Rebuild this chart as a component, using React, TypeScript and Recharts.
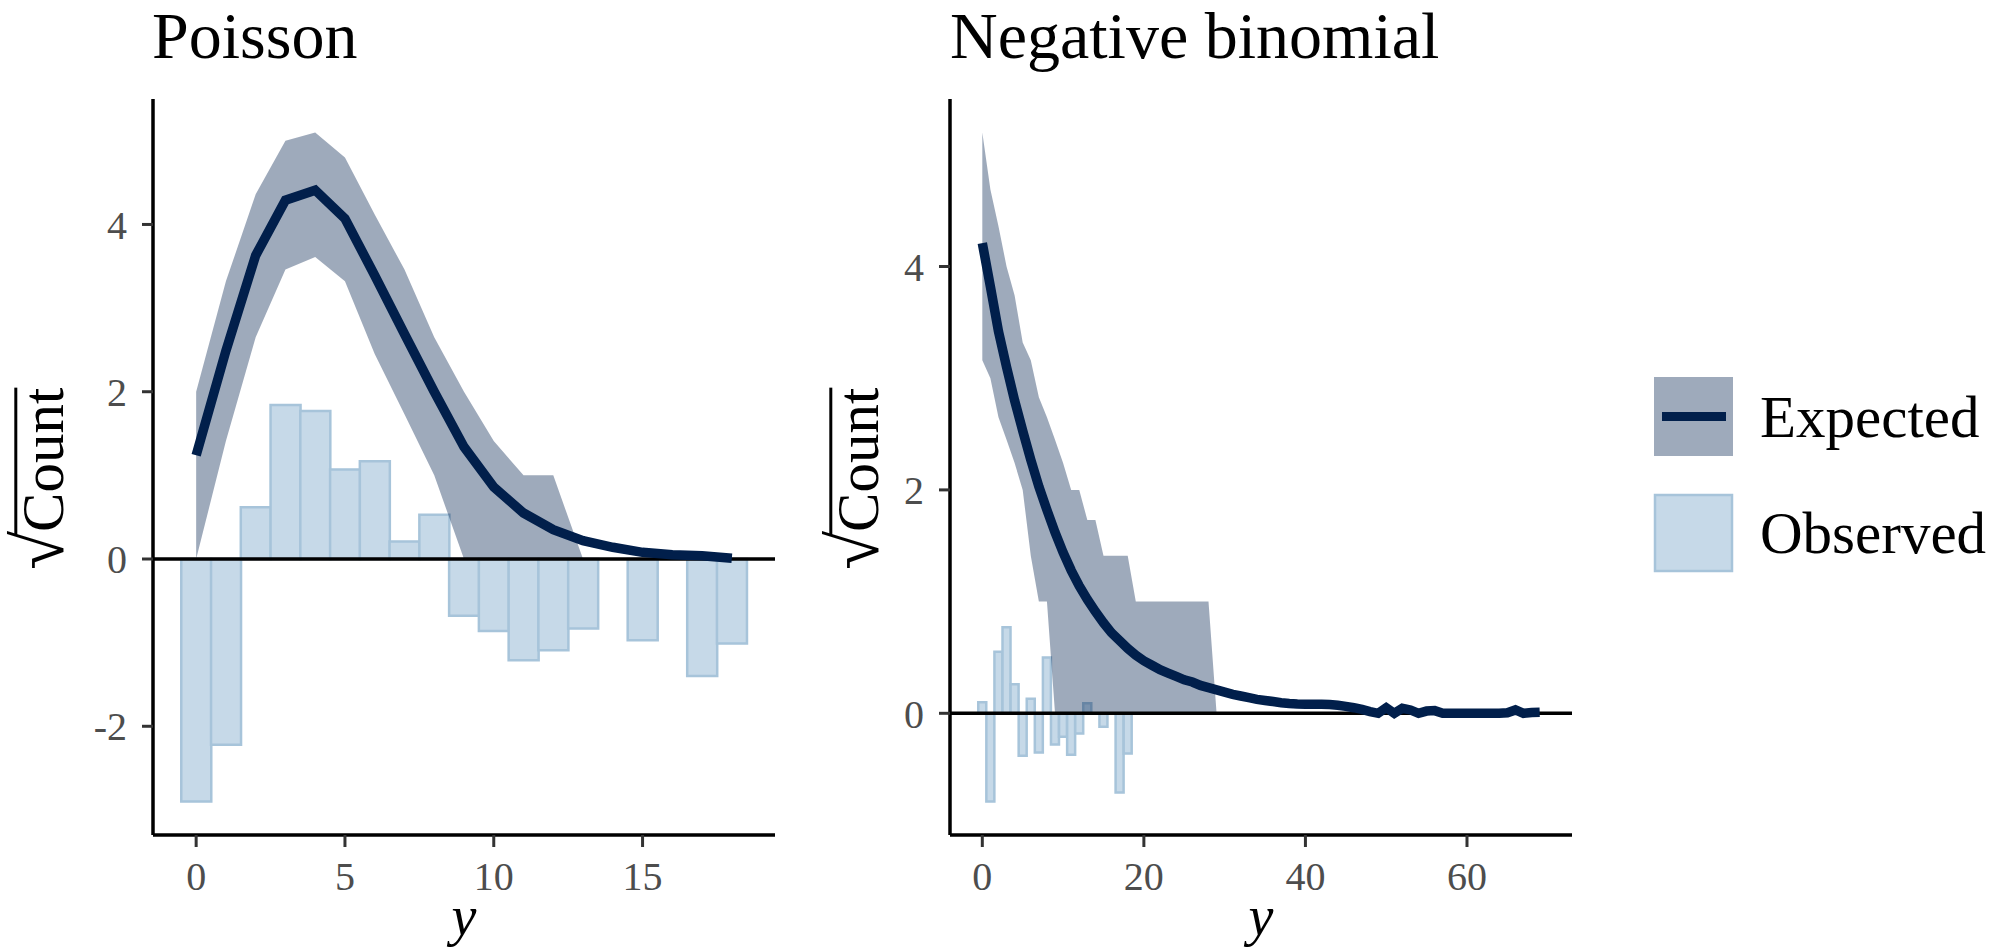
import React from 'react';
import { ComposedChart, Bar, Area, Line, XAxis, YAxis, ReferenceLine, Label } from 'recharts';

const SERIF = '"Liberation Serif", "Times New Roman", Times, serif';
const DARK = '#011f4b';
const RIBBON_OPACITY = 0.38;
const BAR_FILL = '#c6d9e8';
const BAR_STROKE = '#a7c4da';
const TICK_COLOR = '#4d4d4d';

const panelTitles = ['Poisson', 'Negative binomial'];
const legendLabels = ['Expected', 'Observed'];
const yAxisTitle = 'Count';
const radicalSign = '√';
const xAxisTitle = 'y';

// ---------- Poisson panel ----------
const poissonY = [0, 1, 2, 3, 4, 5, 6, 7, 8, 9, 10, 11, 12, 13, 14, 15, 16, 17, 18];
const poissonExpected = [1.24, 2.49, 3.63, 4.29, 4.41, 4.07, 3.39, 2.69, 2.0, 1.34, 0.86, 0.55, 0.35, 0.22, 0.14, 0.08, 0.05, 0.04, 0.01];
const poissonLower = [0, 1.41, 2.65, 3.46, 3.61, 3.32, 2.45, 1.73, 1.0, 0, 0, 0, 0, 0, 0, 0, 0, 0, 0];
const poissonUpper = [2.0, 3.32, 4.36, 5.0, 5.1, 4.8, 4.12, 3.46, 2.65, 2.0, 1.41, 1.0, 1.0, 0, 0, 0, 0, 0, 0];
const poissonObserved: (number | null)[] = [-2.9, -2.22, 0.62, 1.84, 1.77, 1.07, 1.17, 0.21, 0.53, -0.68, -0.86, -1.21, -1.09, -0.83, null, -0.97, null, -1.4, -1.01];
const poissonXTicks = [0, 5, 10, 15];
const poissonYTicks = [-2, 0, 2, 4];

// ---------- Negative binomial panel ----------
const negbinY = [
  0, 1, 2, 3, 4, 5, 6, 7, 8, 9,
  10, 11, 12, 13, 14, 15, 16, 17, 18, 19,
  20, 21, 22, 23, 24, 25, 26, 27, 28, 29,
  30, 31, 32, 33, 34, 35, 36, 37, 38, 39,
  40, 41, 42, 43, 44, 45, 46, 47, 48, 49,
  50, 51, 52, 53, 54, 55, 56, 57, 58, 59,
  60, 61, 62, 63, 64, 65, 66, 67, 68, 69,
];
const negbinExpected = [
  4.21, 3.82, 3.42, 3.10, 2.80, 2.53, 2.27, 2.03, 1.82, 1.62,
  1.44, 1.28, 1.14, 1.02, 0.91, 0.81, 0.72, 0.65, 0.58, 0.52,
  0.47, 0.43, 0.39, 0.36, 0.33, 0.30, 0.28, 0.25, 0.23, 0.21,
  0.19, 0.17, 0.155, 0.14, 0.125, 0.115, 0.105, 0.095, 0.088, 0.084,
  0.082, 0.08, 0.08, 0.078, 0.072, 0.062, 0.05, 0.035, 0.015, 0.0,
  0.05, 0.0, 0.045, 0.03, 0.0, 0.02, 0.024, 0.0, 0.0, 0.0,
  0.0, 0.0, 0.0, 0.0, 0.0, 0.005, 0.03, 0.0, 0.008, 0.01,
];
const negbinLower = [
  3.16, 3.0, 2.65, 2.45, 2.24, 2.0, 1.41, 1.0, 1.0, 0,
  0, 0, 0, 0, 0, 0, 0, 0, 0, 0,
  0, 0, 0, 0, 0, 0, 0, 0, 0, 0,
  0, 0, 0, 0, 0, 0, 0, 0, 0, 0,
  0, 0, 0, 0, 0, 0, 0, 0, 0, 0,
  0, 0, 0, 0, 0, 0, 0, 0, 0, 0,
  0, 0, 0, 0, 0, 0, 0, 0, 0, 0,
];
const negbinUpper = [
  5.2, 4.69, 4.36, 4.0, 3.74, 3.32, 3.16, 2.83, 2.65, 2.45,
  2.24, 2.0, 2.0, 1.73, 1.73, 1.41, 1.41, 1.41, 1.41, 1.0,
  1.0, 1.0, 1.0, 1.0, 1.0, 1.0, 1.0, 1.0, 1.0, 0,
  0, 0, 0, 0, 0, 0, 0, 0, 0, 0,
  0, 0, 0, 0, 0, 0, 0, 0, 0, 0,
  0, 0, 0, 0, 0, 0, 0, 0, 0, 0,
  0, 0, 0, 0, 0, 0, 0, 0, 0, 0,
];
const negbinObserved: (number | null)[] = [0.1, -0.79, 0.55, 0.77, 0.26, -0.38, 0.13, -0.35, 0.5, -0.28, -0.21, -0.37, -0.18, 0.09, null, -0.12, null, -0.71, -0.36];
const negbinXTicks = [0, 20, 40, 60];
const negbinYTicks = [0, 2, 4];

// ---------- helpers ----------
type Row = { y: number; expected: number; band: [number, number]; observed: number | null };

function buildRows(ys: number[], exp: number[], lo: number[], hi: number[], obs: (number | null)[]): Row[] {
  return ys.map((y, i) => ({
    y,
    expected: exp[i],
    band: [lo[i], hi[i]] as [number, number],
    observed: i < obs.length ? obs[i] : null,
  }));
}

function expand(lo: number, hi: number): [number, number] {
  const pad = (hi - lo) * 0.05;
  return [lo - pad, hi + pad];
}

function yDomainOf(rows: Row[]): [number, number] {
  const vals: number[] = [];
  rows.forEach((r) => {
    vals.push(r.expected, r.band[0], r.band[1]);
    if (r.observed !== null) vals.push(r.observed);
  });
  return expand(Math.min(...vals), Math.max(...vals));
}

function xDomainOf(ys: number[]): [number, number] {
  return expand(Math.min(...ys) - 0.5, Math.max(...ys) + 0.5);
}

// sqrt(Count) axis title: radical + overlined word, rotated
function SqrtTitle({ x, y }: { x: number; y: number }) {
  const fs = 59;
  const countW = 2.445 * fs; // Times-metric advance of "Count"
  const radW = 0.55 * fs;
  const start = x - (countW + radW) / 2;
  const countStart = start + radW;
  const barY = y - 0.8 * fs;
  return (
    <g transform={`rotate(-90 ${x} ${y})`}>
      <text x={countStart + 1} y={y} textAnchor="end" fontFamily={SERIF} fontSize={fs * 1.2} fill="#000">
        {radicalSign}
      </text>
      <text x={countStart} y={y} textAnchor="start" fontFamily={SERIF} fontSize={fs} fill="#000">
        {yAxisTitle}
      </text>
      <line x1={countStart - 3} x2={countStart + countW} y1={barY} y2={barY} stroke="#000" strokeWidth={3} />
    </g>
  );
}

function XTitle({ viewBox }: any) {
  const cx = viewBox ? viewBox.x + viewBox.width / 2 : 0;
  return (
    <text x={cx} y={935} textAnchor="middle" fontFamily={SERIF} fontSize={56} fontStyle="italic" fill="#000">
      {xAxisTitle}
    </text>
  );
}

type PanelProps = {
  rows: Row[];
  xTicks: number[];
  yTicks: number[];
  width: number;
  yAxisWidth: number;
  rightMargin: number;
  titleX: number;
};

function Panel({ rows, xTicks, yTicks, width, yAxisWidth, rightMargin, titleX }: PanelProps) {
  const xDomain = xDomainOf(rows.map((r) => r.y));
  const yDomain = yDomainOf(rows);
  const tickStyle = { fill: TICK_COLOR, fontSize: 40, fontFamily: SERIF };
  return (
    <ComposedChart
      width={width}
      height={947}
      data={rows}
      margin={{ top: 99, right: rightMargin, bottom: 0, left: 0 }}
      barCategoryGap={0}
      barGap={0}
    >
      <XAxis
        dataKey="y"
        type="number"
        domain={xDomain}
        allowDataOverflow
        ticks={xTicks}
        interval={0}
        height={112}
        tick={tickStyle}
        tickSize={12}
        tickMargin={15}
        axisLine={{ stroke: '#000', strokeWidth: 3.5 }}
        tickLine={{ stroke: '#333', strokeWidth: 3 }}
      >
        <Label content={(p: any) => <XTitle {...p} />} />
      </XAxis>
      <YAxis
        type="number"
        domain={yDomain}
        allowDataOverflow
        ticks={yTicks}
        interval={0}
        width={yAxisWidth}
        tick={tickStyle}
        tickSize={11}
        tickMargin={15}
        axisLine={{ stroke: '#000', strokeWidth: 3.5 }}
        tickLine={{ stroke: '#333', strokeWidth: 3 }}
      >
        <Label content={() => <SqrtTitle x={titleX} y={476} />} />
      </YAxis>
      <Bar
        dataKey="observed"
        fill={BAR_FILL}
        stroke={BAR_STROKE}
        strokeWidth={2.5}
        isAnimationActive={false}
      />
      <Area
        dataKey="band"
        type="linear"
        fill={DARK}
        fillOpacity={RIBBON_OPACITY}
        stroke="none"
        isAnimationActive={false}
        zIndex={350}
      />
      <ReferenceLine y={0} stroke="#000" strokeWidth={3.5} ifOverflow="visible" />
      <Line
        dataKey="expected"
        type="linear"
        stroke={DARK}
        strokeWidth={9.5}
        dot={false}
        activeDot={false}
        isAnimationActive={false}
      />
    </ComposedChart>
  );
}

export default function App() {
  const poissonRows = buildRows(poissonY, poissonExpected, poissonLower, poissonUpper, poissonObserved);
  const negbinRows = buildRows(negbinY, negbinExpected, negbinLower, negbinUpper, negbinObserved);
  return (
    <div style={{ position: 'absolute', left: 0, top: 0, width: 1996, height: 947, background: '#fff' }}>
      <div style={{ position: 'absolute', left: 0, top: 0 }}>
        <Panel rows={poissonRows} xTicks={poissonXTicks} yTicks={poissonYTicks} width={800} yAxisWidth={153} rightMargin={25} titleX={63} />
      </div>
      <div style={{ position: 'absolute', left: 800, top: 0 }}>
        <Panel rows={negbinRows} xTicks={negbinXTicks} yTicks={negbinYTicks} width={800} yAxisWidth={150} rightMargin={28} titleX={78} />
      </div>
      <svg width={1996} height={947} style={{ position: 'absolute', left: 0, top: 0, pointerEvents: 'none' }}>
        <text x={152} y={58} fontFamily={SERIF} fontSize={66} fill="#000">{panelTitles[0]}</text>
        <text x={950} y={58} fontFamily={SERIF} fontSize={66} fill="#000">{panelTitles[1]}</text>
        <rect x={1654} y={377} width={79} height={79} fill={DARK} fillOpacity={RIBBON_OPACITY} />
        <line x1={1662} x2={1726} y1={416.5} y2={416.5} stroke={DARK} strokeWidth={9} />
        <text x={1760} y={437} fontFamily={SERIF} fontSize={59} fill="#000">{legendLabels[0]}</text>
        <rect x={1655} y={495} width={77} height={76} fill={BAR_FILL} stroke={BAR_STROKE} strokeWidth={2.5} />
        <text x={1760} y={553} fontFamily={SERIF} fontSize={59} fill="#000">{legendLabels[1]}</text>
      </svg>
    </div>
  );
}
